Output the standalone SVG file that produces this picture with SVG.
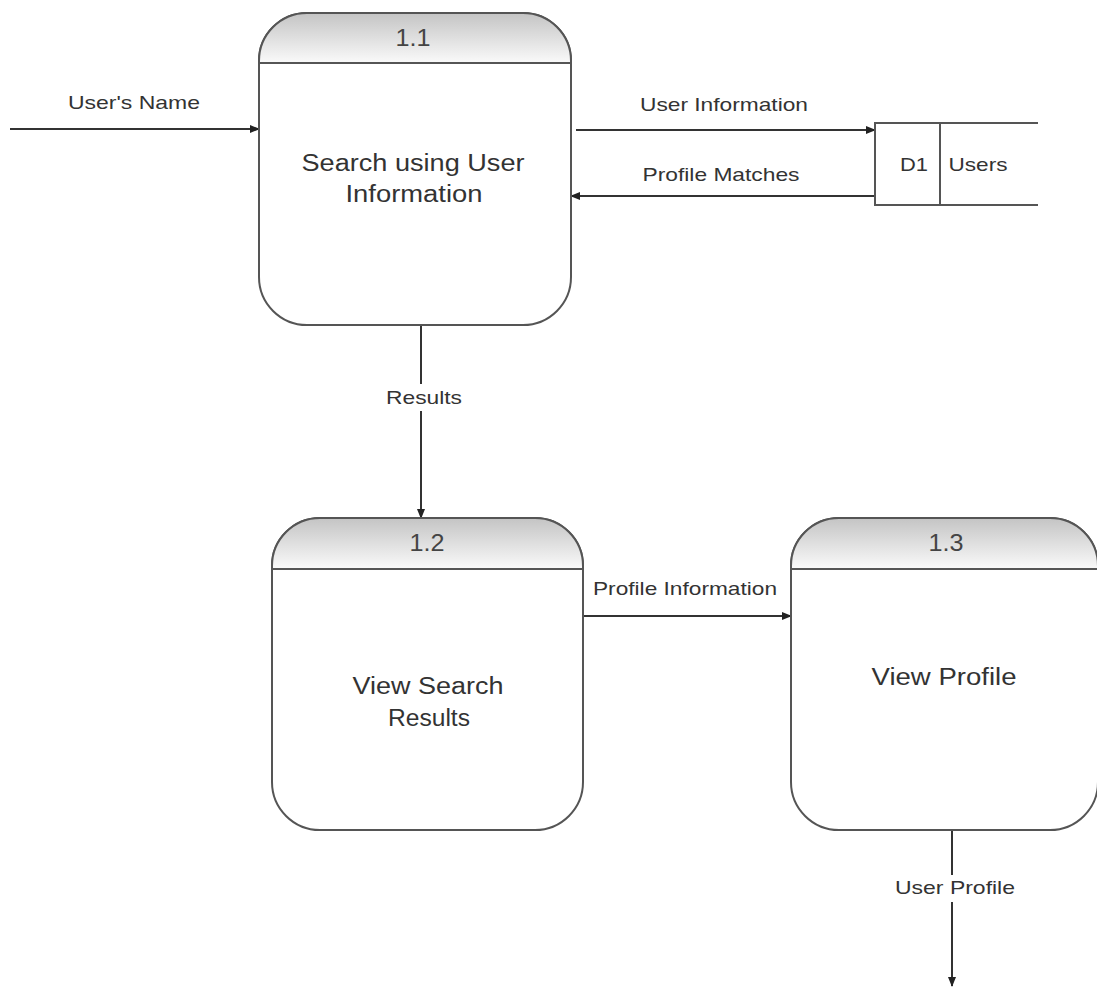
<svg xmlns="http://www.w3.org/2000/svg" width="1097" height="992" viewBox="0 0 1097 992">
  <defs>
    <linearGradient id="hdr" x1="0" y1="0" x2="0" y2="1">
      <stop offset="0" stop-color="#c4c4c4"/>
      <stop offset="1" stop-color="#fafafa"/>
    </linearGradient>
    <marker id="arr" markerWidth="10" markerHeight="10" refX="9" refY="5" orient="auto" markerUnits="userSpaceOnUse">
      <path d="M0,1 L10,5 L0,9 Z" fill="#222"/>
    </marker>
  </defs>
  <style>
    .box { fill: #fff; stroke: #555; stroke-width: 2; }
    .head { fill: url(#hdr); stroke: #555; stroke-width: 2; }
    .flow { fill: none; stroke: #333; stroke-width: 2; marker-end: url(#arr); }
    .store { fill: none; stroke: #555; stroke-width: 2; }
    text { font-family: "Liberation Sans", Arial, sans-serif; text-anchor: middle; }
    .num { font-size: 23px; fill: #444; }
    .title { font-size: 23px; fill: #333; }
    .lbl { font-size: 19px; fill: #333; }
  </style>
  <rect width="1097" height="992" fill="#fff"/>

  <!-- data flows -->
  <g id="connectors">
    <line class="flow" x1="10" y1="129" x2="259" y2="129"/>
    <text class="lbl" x="134" y="109" textLength="132" lengthAdjust="spacingAndGlyphs">User's Name</text>

    <line class="flow" x1="576" y1="130" x2="875" y2="130"/>
    <text class="lbl" x="724" y="111" textLength="168" lengthAdjust="spacingAndGlyphs">User Information</text>

    <line class="flow" x1="875" y1="196" x2="571" y2="196"/>
    <text class="lbl" x="721" y="181" textLength="157" lengthAdjust="spacingAndGlyphs">Profile Matches</text>

    <line class="flow" x1="421" y1="325" x2="421" y2="518"/>
    <rect x="382" y="384" width="84" height="27" fill="#fff"/>
    <text class="lbl" x="424" y="404" textLength="76" lengthAdjust="spacingAndGlyphs">Results</text>

    <line class="flow" x1="583" y1="616" x2="791" y2="616"/>
    <text class="lbl" x="685" y="595" textLength="184" lengthAdjust="spacingAndGlyphs">Profile Information</text>

    <line class="flow" x1="952" y1="830" x2="952" y2="986"/>
    <rect x="892" y="875" width="126" height="27" fill="#fff"/>
    <text class="lbl" x="955" y="894" textLength="120" lengthAdjust="spacingAndGlyphs">User Profile</text>
  </g>

  <!-- process 1.1 -->
  <g id="p1_1">
    <rect class="box" x="259" y="13" width="312" height="312" rx="48"/>
    <path class="head" d="M259,63 V61 A48,48 0 0 1 307,13 H523 A48,48 0 0 1 571,61 V63 Z"/>
    <text class="num" x="413" y="46" textLength="35" lengthAdjust="spacingAndGlyphs">1.1</text>
    <text class="title" x="413" y="171" textLength="223" lengthAdjust="spacingAndGlyphs">Search using User</text>
    <text class="title" x="414" y="202" textLength="137" lengthAdjust="spacingAndGlyphs">Information</text>
  </g>

  <!-- process 1.2 -->
  <g id="p1_2">
    <rect class="box" x="272" y="518" width="311" height="312" rx="48"/>
    <path class="head" d="M272,569 V566 A48,48 0 0 1 320,518 H535 A48,48 0 0 1 583,566 V569 Z"/>
    <text class="num" x="427" y="551" textLength="35" lengthAdjust="spacingAndGlyphs">1.2</text>
    <text class="title" x="428" y="694" textLength="151" lengthAdjust="spacingAndGlyphs">View Search</text>
    <text class="title" x="429" y="726" textLength="82" lengthAdjust="spacingAndGlyphs">Results</text>
  </g>

  <!-- process 1.3 -->
  <g id="p1_3">
    <rect class="box" x="791" y="518" width="307" height="312" rx="48"/>
    <path class="head" d="M791,569 V566 A48,48 0 0 1 839,518 H1050 A48,48 0 0 1 1098,566 V569 Z"/>
    <text class="num" x="946" y="551" textLength="35" lengthAdjust="spacingAndGlyphs">1.3</text>
    <text class="title" x="944" y="685" textLength="145" lengthAdjust="spacingAndGlyphs">View Profile</text>
  </g>

  <!-- data store D1 -->
  <g id="d1">
    <path class="store" d="M1038,123 H875 V205 H1038 M940,123 V205"/>
    <text class="lbl" x="914" y="171" textLength="28" lengthAdjust="spacingAndGlyphs">D1</text>
    <text class="lbl" x="978" y="171" textLength="59" lengthAdjust="spacingAndGlyphs">Users</text>
  </g>
</svg>
